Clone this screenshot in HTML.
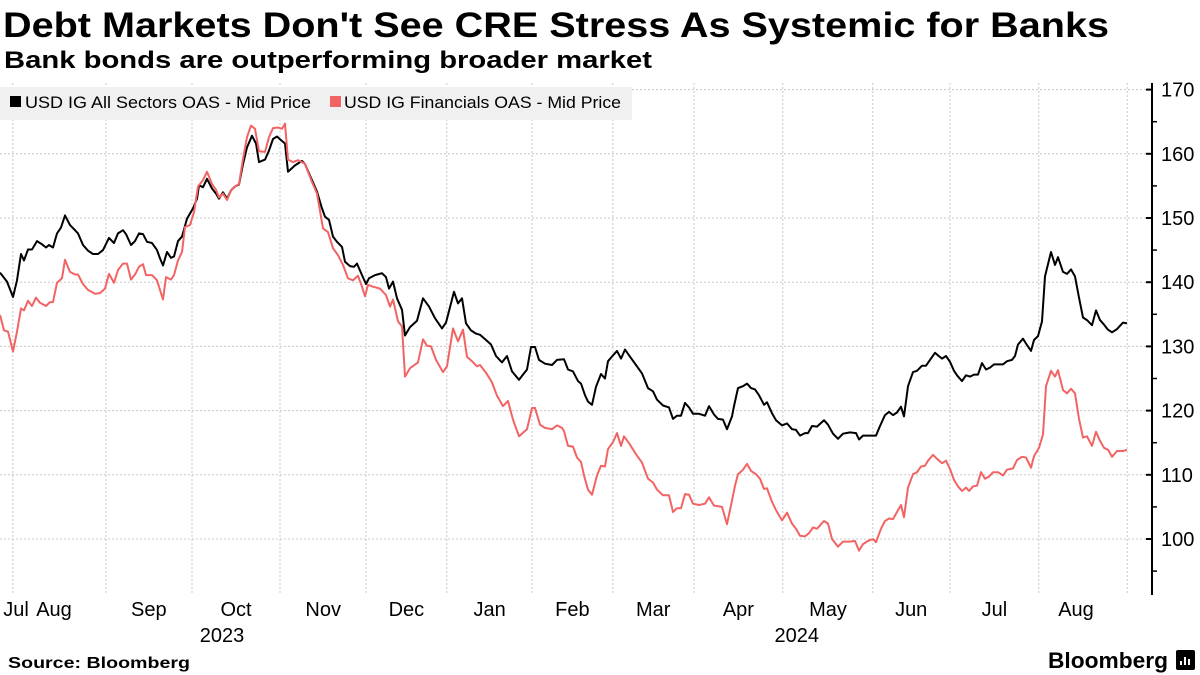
<!DOCTYPE html>
<html><head><meta charset="utf-8">
<style>
html,body{margin:0;padding:0;background:#fff;}
svg{display:block;font-family:"Liberation Sans",sans-serif;}
</style></head>
<body>
<svg id="chart" width="1200" height="675" viewBox="0 0 1200 675" xmlns="http://www.w3.org/2000/svg">
<text x="3" y="37" font-size="35" font-weight="bold" textLength="1106" lengthAdjust="spacingAndGlyphs">Debt Markets Don't See CRE Stress As Systemic for Banks</text>
<text x="4" y="68" font-size="24" font-weight="bold" textLength="648" lengthAdjust="spacingAndGlyphs">Bank bonds are outperforming broader market</text>
<g id="grid"></g>
<g id="series"></g>
<g id="yaxis"></g>
<g id="xaxis"></g>
<g>
<rect x="0" y="87" width="632" height="33" fill="#f0f0f0"/>
<g><rect x="10" y="96" width="11" height="11" fill="#000"/><text x="25" y="108" font-size="17" textLength="286" lengthAdjust="spacingAndGlyphs">USD IG All Sectors OAS - Mid Price</text></g>
<g><rect x="330" y="96" width="11" height="11" fill="#f26464"/><text x="344" y="108" font-size="17" textLength="277" lengthAdjust="spacingAndGlyphs">USD IG Financials OAS - Mid Price</text></g>
</g>
<text x="8" y="668" font-size="16" font-weight="bold" textLength="182" lengthAdjust="spacingAndGlyphs">Source: Bloomberg</text>
<text x="1048" y="668" font-size="22" font-weight="bold" textLength="120" lengthAdjust="spacingAndGlyphs">Bloomberg</text>
<rect x="1176" y="650" width="19" height="20" rx="2" fill="#000"/>
<path d="M1181 665v-4M1185 665v-8M1189 665v-6" stroke="#fff" stroke-width="2"/>
</svg>
<script>
const yTicks=[100,110,120,130,140,150,160,170];
const monthStarts=[3.2,26.5,48,70,91.5,111.7,133,153.2,173.5,195.7,218.2,237.5,259.7,281.8];
const monthLabels=["Jul","Aug","Sep","Oct","Nov","Dec","Jan","Feb","Mar","Apr","May","Jun","Jul","Aug"];
const monthLabelPos=[4,13.5,37.2,59,80.8,101.6,122.4,143.1,163.3,184.6,207,227.8,248.6,269];
const yearLabels=["2023","2024"];
const yearLabelPos=[55.5,199.2];
const allSectors=[[0,141.5],[1.75,140.1],[3.25,137.7],[4.25,140.3],[5.25,144.4],[6,143.4],[7,145.1],[8,145.1],[9.25,146.4],[10.5,145.9],[11.5,145.4],[12.25,145.8],[13.25,145.4],[14.25,147.6],[15.25,148.5],[16.25,150.4],[17.5,148.9],[18.75,148.1],[19.5,147.6],[20.75,145.8],[22,144.9],[23.25,144.4],[24.5,144.4],[25.75,145],[27.25,146.9],[28.5,146.1],[29.5,147.6],[30.75,148.1],[31.5,147.5],[32.75,145.8],[33.75,146.4],[34.75,147.6],[35.75,147.5],[36.75,146.3],[38,146.1],[39.25,145],[40,143.7],[40.75,142.6],[41.75,144.7],[42.75,143.8],[43.5,144],[44.5,146.4],[45.5,147.1],[46.75,149.9],[48.25,151.5],[49.25,153],[49.75,155.1],[50.75,154.8],[51.75,156.1],[53,154.6],[54,153.8],[54.75,153],[55.75,154],[56.75,153],[57.75,154.3],[58.75,154.9],[59.75,155.2],[60.75,158.4],[61.75,161],[63,162.8],[64,161.6],[64.75,158.7],[66.25,159.1],[67.25,160.5],[68.25,162.3],[69.25,162.7],[70.5,162],[71.25,161.6],[72,157.2],[73.75,158.2],[75.5,158.9],[76.25,158.4],[78,155.9],[79.25,154.1],[80.5,151.5],[81.25,150.2],[82.25,149.7],[83.25,147.1],[84.25,146.3],[85.5,145.5],[86.25,143.2],[87.5,142.5],[88.5,142.4],[89.25,142.9],[90.5,141.1],[91.5,139.7],[92.25,140.6],[93.75,141.1],[95.5,141.4],[96.5,140.8],[97.25,139],[98.25,140.1],[99.25,137.5],[100.5,135.7],[101.25,131.7],[102.5,133],[104.25,134],[105.75,137.5],[107.25,136.2],[108.75,134.4],[110.5,132.8],[111.5,133.7],[112.75,136.7],[113.5,138.5],[114.5,136.7],[115.5,137.5],[116.5,133.6],[117.75,132.5],[119,132],[120,131.8],[121.5,131],[122.75,130.3],[124,128.5],[125.5,127.5],[126.75,128.5],[128,126.1],[129.75,124.8],[131.75,126.4],[132.75,129.9],[133.75,129.9],[134.75,127.9],[136.25,127.3],[138,127.1],[139.25,127.9],[141,128],[142,126.4],[143.25,126.1],[144.5,124.6],[145.25,124.2],[146.25,122.4],[147,121.4],[148,120.9],[149,123.7],[150.25,125.7],[151.25,125],[152,127.7],[153.25,128.6],[154.25,129.3],[155.25,128.1],[156.25,129.5],[157.5,128.4],[159,127.1],[160.5,125.8],[162,123.5],[163.25,123],[164.25,121.7],[165.75,120.8],[167.25,120.5],[168.25,118.7],[169.25,119.2],[170.25,119.2],[171.25,121.2],[172.25,120.5],[173.25,119.5],[174.75,119.5],[176.25,119.2],[177.25,120.7],[178.5,119.4],[179.5,118.7],[180.75,118.6],[181.75,117.1],[183,119.1],[183.5,120.7],[184.5,123.5],[185.75,123.8],[186.75,124.2],[187.75,123.5],[188.75,123.3],[189.75,122.4],[191,120.9],[191.75,121.3],[193,119.6],[194,118.5],[195.5,117.7],[196.75,118],[198,117.1],[199,117],[200,116.1],[201.25,116.5],[202,116.5],[203,117.6],[204.25,117.5],[206,118.5],[207,117.8],[208.25,116.4],[209.5,115.6],[210.75,116.4],[212.5,116.6],[214,116.5],[214.75,115.5],[215.75,116.1],[217,116.1],[219,116.1],[220,117.6],[221.25,119.3],[222.25,119.8],[223.25,119.3],[224.25,119.7],[225.25,120.6],[226,119.1],[227,123.8],[228.25,126],[229.25,126.2],[230.5,127],[231.5,127],[232.5,127.9],[233.75,129],[234.5,128.6],[235.5,128.1],[236.5,128.5],[237.5,127.6],[238.5,126.2],[239.25,125.5],[240.5,124.6],[241.5,125.5],[242.5,125.3],[243.5,125.6],[244.5,125.6],[245.5,127.4],[246.5,126.4],[247.5,126.7],[248.5,127.2],[249.75,127.2],[250.75,127.2],[251.75,127.7],[253,127.9],[253.75,128.5],[254.5,130.3],[255.75,131.2],[256.75,130.2],[257.75,129.3],[258.5,131],[259.5,131.6],[260.5,133.9],[261.25,140.9],[262.75,144.7],[263.75,142.7],[264.5,143.9],[265.75,141.6],[266.75,141.3],[267.75,142],[268.75,140.9],[269.75,137.6],[270.75,134.5],[271.75,134.1],[273,133.3],[274,135.6],[275,134.1],[276,133.4],[277,132.6],[278,132.2],[279.25,132.7],[280.75,133.7],[281.75,133.6]];
const financials=[[0,134.9],[1,132.5],[2,132.3],[3.25,129.2],[4.25,132.3],[5.25,135.9],[6,135.6],[7,137.1],[8,136.3],[9,137.6],[10,136.8],[11.5,136.3],[12.5,136.9],[13.25,136.9],[14.25,139.9],[15.5,140.6],[16.25,143.5],[17.5,141.6],[18.75,141.2],[19.5,141.2],[20.75,139.7],[22,138.8],[23.75,138.2],[25,138.3],[26.25,139],[27.25,141.3],[28.5,139.9],[29.5,141.9],[30.75,142.9],[31.75,142.9],[32.75,140.4],[33.75,141.2],[34.75,142.4],[35.75,142.8],[36.5,141.1],[38,141.1],[39.25,140.3],[40,138.8],[40.75,137.3],[41.5,140.8],[42.75,140.4],[43.5,141.1],[44.5,143.4],[45.5,144.7],[46.25,148.6],[47.5,148.9],[48.5,150.9],[49.5,154.9],[50.75,155.9],[51.75,157.2],[53,155.3],[54,154.4],[54.75,153.2],[55.75,153.8],[56.75,152.8],[57.75,154.3],[58.75,154.9],[59.75,155.3],[60.75,159.2],[61.75,162.6],[62.75,164.4],[63.75,163.9],[64.75,160.4],[66.25,160.3],[67.25,162.6],[68.25,164],[69.5,164.1],[70.5,163.9],[71.25,164.7],[72,159.1],[73.25,158.7],[74.5,159],[75.5,158.7],[76.25,158.4],[78,155.6],[79.25,153.8],[80.75,148.4],[82,147.8],[83.25,145.3],[84.5,144.2],[85.75,142.7],[87,140.6],[88.25,140.3],[89.5,141],[90.5,139.3],[91.25,137.8],[92,139.6],[93.25,139.3],[95,139],[96.5,138],[97.5,136.2],[98.25,137.3],[99.5,133.9],[100.5,133.1],[101.25,125.3],[102.5,126.6],[104.5,127.5],[105.75,131.1],[106.75,130.1],[107.75,130],[109,127.9],[110.75,126],[111.75,126.9],[113.25,132.8],[114.5,130.8],[115.75,132.6],[116.75,128.4],[118,127.7],[119.25,126.9],[120,127.1],[121.5,125.9],[123,124.4],[124.25,122.3],[125.75,120.7],[127,121.5],[128.25,118.6],[129.75,116],[131.75,117.1],[133,120.4],[133.75,120.4],[135,117.8],[136.25,117.3],[138,117.1],[139.25,117.7],[140.5,117.3],[141,116.8],[142,114.5],[143.25,114.4],[144.25,112.7],[145.25,112],[146,109.9],[147,107.7],[148,106.9],[149.25,109.9],[150.25,111.4],[151.25,111.3],[152,114],[153.25,115.1],[154.25,116.5],[155.25,114.5],[156,116],[157.5,114.7],[159,113.2],[160.5,111.9],[162,109.4],[163.25,108.8],[164.25,107.7],[165.75,106.8],[167.25,106.8],[168.25,104.2],[169.25,104.8],[170.25,104.8],[171.25,107],[172.25,106.9],[173.25,105.5],[174.75,105.3],[176.25,105.5],[177.25,106.5],[178.5,105.2],[180.5,105],[181.75,102.3],[183,106],[183.75,108.3],[184.5,110.1],[185.75,110.8],[186.75,111.7],[187.75,110.6],[189,110.1],[190,109.4],[191,107.8],[191.75,107.9],[193,105.8],[194,104.5],[195.5,102.9],[196.75,104.1],[198,102.4],[199,101.6],[200,100.5],[201.25,100.4],[202.25,100.9],[203.25,101.8],[204.25,101.6],[206,102.8],[207,102.4],[208,100],[209.5,98.8],[210.75,99.6],[212.5,99.6],[213.75,99.7],[214.75,98.2],[215.75,99.2],[217,99.7],[218.25,100],[219,99.5],[220.25,101.6],[221.25,102.8],[222.25,103.2],[223.25,103.1],[224.25,104.2],[225.25,105.3],[226,103.4],[227,108],[228.25,110.1],[229.25,110.4],[230.25,111.3],[231.25,111.4],[232,112.2],[233.25,113.1],[234.25,112.5],[235.5,111.8],[236.5,112.2],[237.5,110.9],[238.5,109.2],[239.5,108.2],[240.5,107.5],[241.5,108],[242.25,107.5],[243.25,108.2],[244.25,108.3],[245.25,110.4],[246.25,109.4],[247.25,109.7],[248.25,110.4],[249.5,110.4],[250.75,109.9],[251.75,110.8],[253.25,111],[254.25,112.3],[255.5,112.8],[256.5,112.7],[257.75,111.1],[258.5,112.9],[259.75,114.2],[260.75,116.3],[261.5,123.8],[262.75,126.2],[263.75,125.3],[264.5,126.3],[265.75,123.2],[266.75,122.7],[267.75,123.4],[268.75,122.7],[269.75,118.7],[270.75,115.8],[271.75,116],[273,114.5],[274,116.7],[275,115.3],[276,114.2],[277,113.9],[278,112.8],[279.25,113.7],[280.75,113.7],[281.75,113.9]];

const NS="http://www.w3.org/2000/svg";
const X0=0,X1=1128,D0=0,D1=282;
const Y100=539,PX10=64.2;
function xs(d){return X0+(d-D0)/(D1-D0)*(X1-X0);}
function ys(v){return Y100-(v-100)*PX10/10;}
const AXX=1152, PLOT_TOP=83, PLOT_BOT=595;
function mk(tag,attrs,parent){const e=document.createElementNS(NS,tag);for(const k in attrs)e.setAttribute(k,attrs[k]);parent.appendChild(e);return e;}
const grid=document.getElementById('grid'),yaxis=document.getElementById('yaxis'),xaxis=document.getElementById('xaxis'),series=document.getElementById('series');
yTicks.forEach(v=>{
  const l=mk('line',{x1:0,x2:AXX,y1:ys(v),y2:ys(v),stroke:'#c8c8c8','stroke-width':1,'stroke-dasharray':'2,2'},grid);
  
  
  const t=mk('line',{x1:AXX-6,x2:AXX,y1:ys(v),y2:ys(v),stroke:'#000','stroke-width':2},yaxis);
  
  
  const m=mk('line',{x1:AXX,x2:AXX+5,y1:ys(v-5),y2:ys(v-5),stroke:'#000','stroke-width':1.5},yaxis);
  
  
  const tx=mk('text',{x:AXX+9,y:ys(v)+7,'font-size':20},yaxis);
  tx.textContent=v;
  
  
});
const al=mk('line',{x1:AXX,x2:AXX,y1:PLOT_TOP,y2:PLOT_BOT,stroke:'#000','stroke-width':2},yaxis);


monthStarts.forEach(d=>{
  const l=mk('line',{x1:xs(d),x2:xs(d),y1:PLOT_TOP,y2:PLOT_BOT,stroke:'#c8c8c8','stroke-width':1,'stroke-dasharray':'2,2'},grid);
  
  
});
monthLabels.forEach((m,i)=>{
  const t=mk('text',{x:xs(monthLabelPos[i]),y:616,'font-size':20,'text-anchor':'middle'},xaxis);
  t.textContent=m;
  
  
});
yearLabels.forEach((y,i)=>{
  const t=mk('text',{x:xs(yearLabelPos[i]),y:642,'font-size':20,'text-anchor':'middle'},xaxis);
  t.textContent=y;
  
  
});
function path(data){return data.map((p,i)=>(i?'L':'M')+xs(p[0]).toFixed(1)+' '+ys(p[1]).toFixed(1)).join(' ');}
const pa=mk('path',{d:path(allSectors),fill:'none',stroke:'#000','stroke-width':2,'stroke-linejoin':'round'},series);


const pf=mk('path',{d:path(financials),fill:'none',stroke:'#f26464','stroke-width':2,'stroke-linejoin':'round'},series);


</script>
</body></html>
